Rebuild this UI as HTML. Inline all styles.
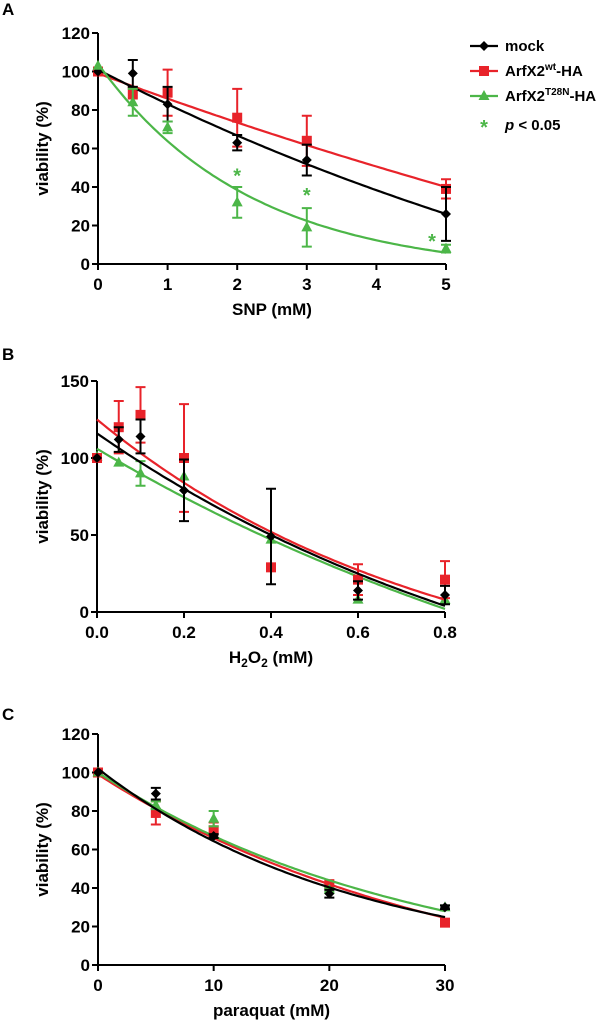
<!DOCTYPE html>
<html><head><meta charset="utf-8">
<style>
body{margin:0;background:#fff;}
svg{display:block;font-family:"Liberation Sans",Arial,sans-serif;font-weight:bold;}
</style></head>
<body>
<svg id="fig" width="615" height="1025" viewBox="0 0 615 1025"></svg>
<script>
// ---------- Panel A data ----------
const aX = [0, 0.5, 1, 2, 3, 5];
const aMock = [100, 99, 83, 63, 54, 26];
const aMockErr = [0, 7, 9, 4, 8, 14];
const aWt = [100, 89, 89, 76, 64, 39];
const aWtErr = [0, 3, 12, 15, 13, 5];
const aT28 = [103, 84, 71, 32, 19, 8];
const aT28Err = [0, 7, 3, 8, 10, 2];
const aStarX = [2, 3, 4.8];
const aStarY = [47, 37, 13];
const aXTicks = [0, 1, 2, 3, 4, 5];
const aYTicks = [0, 20, 40, 60, 80, 100, 120];
// fit params [plateau, top, k]
const aFitMock = [-100, 101, 0.0934];
const aFitWt = [-150, 99, 0.054];
const aFitT28 = [-5, 104, 0.46];

// ---------- Panel B data ----------
const bX = [0, 0.05, 0.1, 0.2, 0.4, 0.6, 0.8];
const bMock = [100, 112, 114, 79, 49, 14, 11];
const bMockErr = [0, 8, 11, 20, 31, 6, 6];
const bWt = [100, 120, 128, 100, 29, 21, 21];
const bWtErr = [0, 17, 18, 35, 0, 10, 12];
const bT28 = [101, 97, 90, 88, 47, 8, 8];
const bT28Err = [0, 0, 8, 0, 0, 0, 0];
const bXTicks = [0, 0.2, 0.4, 0.6, 0.8];
const bYTicks = [0, 50, 100, 150];
const bFitMock = [-101.8, 116, 0.9025];
const bFitWt = [-58.9, 125, 1.2645];
const bFitT28 = [-143, 106, 0.676];

// ---------- Panel C data ----------
const cX = [0, 5, 10, 20, 30];
const cMock = [100, 89, 67, 37, 30];
const cMockErr = [0, 3, 1, 2, 1];
const cWt = [100, 79, 70, 42, 22];
const cWtErr = [0, 6, 4, 1, 1];
const cT28 = [100, 83, 76, 39, 30];
const cT28Err = [0, 2, 4, 1, 1];
const cXTicks = [0, 10, 20, 30];
const cYTicks = [0, 20, 40, 60, 80, 100, 120];
const cFitMock = [-2.3, 102, 0.0448];
const cFitWt = [-22, 99, 0.0319];
const cFitT28 = [-8.9, 100, 0.0361];

const NS = "http://www.w3.org/2000/svg";
const svg = document.getElementById("fig");
const RED = "#e8232a", GREEN = "#4cb648", BLACK = "#000";
function el(tag, attrs, parent, txt) {
  const e = document.createElementNS(NS, tag);
  for (const k in attrs) e.setAttribute(k, attrs[k]);
  if (txt !== undefined) e.textContent = txt;
  (parent || svg).appendChild(e);
  return e;
}

function panel(o) {
  const g = el("g", {});
  
  
  const sx = v => o.x0 + (v - o.xmin) / (o.xmax - o.xmin) * (o.x1 - o.x0);
  const sy = v => o.y0 - (v - o.ymin) / (o.ymax - o.ymin) * (o.y0 - o.y1);
  const L = el("text", {x: 2, y: o.letterY, "font-size": 17}, g, o.letter);
  
  
  const ax = el("path", {d: `M${o.x0},${o.y1}V${o.y0}H${o.x1}`, stroke: "#000", "stroke-width": 2, fill: "none"}, g);
  
  
  o.yTicks.forEach(t => {
    el("line", {x1: o.x0 - 6, x2: o.x0, y1: sy(t), y2: sy(t), stroke: "#000", "stroke-width": 2}, g);
    const tl = el("text", {x: o.x0 - 8, y: sy(t) + 6, "text-anchor": "end", "font-size": 17}, g, t);
    
    
  });
  o.xTicks.forEach(t => {
    el("line", {x1: sx(t), x2: sx(t), y1: o.y0, y2: o.y0 + 6, stroke: "#000", "stroke-width": 2}, g);
    const tl = el("text", {x: sx(t), y: o.y0 + 26, "text-anchor": "middle", "font-size": 17}, g, o.xFmt ? o.xFmt(t) : t);
    
    
  });
  const yt = el("text", {transform: `translate(48,${(o.y0 + o.y1) / 2}) rotate(-90)`, "text-anchor": "middle", "font-size": 17}, g, "viability (%)");
  
  
  const xt = el("text", {x: (o.x0 + o.x1) / 2, y: o.y0 + 51, "text-anchor": "middle", "font-size": 17}, g);
  
  
  xt.innerHTML = o.xTitle;
  o.series.forEach(s => {
    const sg = el("g", {}, g);
    
    
    let d = "";
    for (let i = 0; i <= 100; i++) {
      const x = o.xmin + (o.xmax - o.xmin) * i / 100;
      const [p, top, k] = s.fit;
      const y = p + (top - p) * Math.exp(-k * x);
      d += (i ? "L" : "M") + sx(x).toFixed(1) + "," + sy(y).toFixed(1);
    }
    const fl = el("path", {d, stroke: s.color, "stroke-width": 2.2, fill: "none"}, sg);
    
    
    s.x.forEach((xv, i) => {
      const cx = sx(xv), cy = sy(s.y[i]), e = s.err[i];
      if (e > 0) {
        const up = sy(s.y[i] + e), dn = sy(s.y[i] - e);
        el("path", {d: `M${cx},${up}V${dn}M${cx - 5},${up}H${cx + 5}M${cx - 5},${dn}H${cx + 5}`, stroke: s.color, "stroke-width": 2, fill: "none"}, sg);
      }
      let m;
      if (s.shape === "d") m = el("path", {d: `M${cx},${cy - 5}L${cx + 5},${cy}L${cx},${cy + 5}L${cx - 5},${cy}Z`, fill: s.color}, sg);
      else if (s.shape === "s") m = el("rect", {x: cx - 5, y: cy - 5, width: 10, height: 10, fill: s.color}, sg);
      else m = el("path", {d: `M${cx},${cy - 6}L${cx + 5.5},${cy + 4}L${cx - 5.5},${cy + 4}Z`, fill: s.color}, sg);
      
      
    });
  });
  if (o.stars) o.stars[0].forEach((xv, i) => {
    const st = el("text", {x: sx(xv), y: sy(o.stars[1][i]) + 9, "text-anchor": "middle", "font-size": 20, fill: GREEN}, g, "*");
    
    
  });
}

panel({name: "panel-a", letter: "A", letterY: 15, x0: 98, x1: 446, y0: 264, y1: 33, xmin: 0, xmax: 5, ymin: 0, ymax: 120,
  xTicks: aXTicks, yTicks: aYTicks, xTitle: "SNP (mM)", stars: [aStarX, aStarY],
  series: [
    {name: "series-arfx2-wt", x: aX, y: aWt, err: aWtErr, fit: aFitWt, color: RED, shape: "s"},
    {name: "series-mock", x: aX, y: aMock, err: aMockErr, fit: aFitMock, color: BLACK, shape: "d"},
    {name: "series-arfx2-t28n", x: aX, y: aT28, err: aT28Err, fit: aFitT28, color: GREEN, shape: "t"}]});

panel({name: "panel-b", letter: "B", letterY: 360, x0: 97, x1: 445, y0: 612, y1: 381, xmin: 0, xmax: 0.8, ymin: 0, ymax: 150,
  xTicks: bXTicks, yTicks: bYTicks, xFmt: t => t.toFixed(1), xTitle: 'H<tspan font-size="12" dy="4">2</tspan><tspan dy="-4">O</tspan><tspan font-size="12" dy="4">2</tspan><tspan dy="-4"> (mM)</tspan>',
  series: [
    {name: "series-arfx2-t28n", x: bX, y: bT28, err: bT28Err, fit: bFitT28, color: GREEN, shape: "t"},
    {name: "series-arfx2-wt", x: bX, y: bWt, err: bWtErr, fit: bFitWt, color: RED, shape: "s"},
    {name: "series-mock", x: bX, y: bMock, err: bMockErr, fit: bFitMock, color: BLACK, shape: "d"}]});

panel({name: "panel-c", letter: "C", letterY: 720, x0: 98, x1: 445, y0: 965, y1: 734, xmin: 0, xmax: 30, ymin: 0, ymax: 120,
  xTicks: cXTicks, yTicks: cYTicks, xTitle: "paraquat (mM)",
  series: [
    {name: "series-arfx2-wt", x: cX, y: cWt, err: cWtErr, fit: cFitWt, color: RED, shape: "s"},
    {name: "series-arfx2-t28n", x: cX, y: cT28, err: cT28Err, fit: cFitT28, color: GREEN, shape: "t"},
    {name: "series-mock", x: cX, y: cMock, err: cMockErr, fit: cFitMock, color: BLACK, shape: "d"}]});

const lg = el("g", {});


const legItems = [["mock", BLACK, "d", 46], ["ArfX2<tspan font-size='10' dy='-6'>wt</tspan><tspan dy='6'>-HA</tspan>", RED, "s", 71], ["ArfX2<tspan font-size='10' dy='-6'>T28N</tspan><tspan dy='6'>-HA</tspan>", GREEN, "t", 96]];
legItems.forEach(it => {
  const [label, c, sh, y] = it;
  const eg = el("g", {}, lg);
  
  
  el("line", {x1: 470, x2: 498, y1: y, y2: y, stroke: c, "stroke-width": 2.2}, eg);
  const cx = 484;
  if (sh === "d") el("path", {d: `M${cx},${y - 5}L${cx + 5},${y}L${cx},${y + 5}L${cx - 5},${y}Z`, fill: c}, eg);
  else if (sh === "s") el("rect", {x: cx - 5, y: y - 5, width: 10, height: 10, fill: c}, eg);
  else el("path", {d: `M${cx},${y - 6}L${cx + 5.5},${y + 4}L${cx - 5.5},${y + 4}Z`, fill: c}, eg);
  const t = el("text", {x: 505, y: y + 5, "font-size": 15}, eg);
  t.innerHTML = label;
});
const pe = el("g", {}, lg);


el("text", {x: 484, y: 134, "text-anchor": "middle", "font-size": 20, fill: GREEN}, pe, "*");
const pt = el("text", {x: 505, y: 130, "font-size": 15}, pe);
pt.innerHTML = '<tspan font-style="italic">p</tspan> &lt; 0.05';
</script>
</body></html>
